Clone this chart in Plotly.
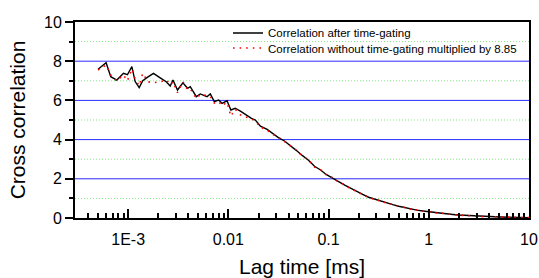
import plotly.graph_objects as go

# Lag times [ms]
lag_ms = [
    5.01e-4, 6.03e-4, 6.71e-4, 7.71e-4, 8.98e-4, 9.84e-4, 1.09e-3, 1.175e-3, 1.29e-3, 1.40e-3,
    1.58e-3, 1.79e-3, 2.09e-3, 2.40e-3, 2.63e-3, 2.80e-3, 3.11e-3, 3.52e-3, 3.92e-3, 4.17e-3,
    4.79e-3, 5.25e-3, 6.12e-3, 6.61e-3, 7.24e-3, 8.0e-3, 8.65e-3, 9.7e-3, 1.06e-2, 1.17e-2,
    1.32e-2, 1.54e-2, 1.70e-2, 1.86e-2, 2.09e-2, 2.44e-2,
    0.0275, 0.0316, 0.0363, 0.0417, 0.0479, 0.0550, 0.0631, 0.0724, 0.0832, 0.0955,
    0.110, 0.126, 0.145, 0.166, 0.191, 0.219, 0.251, 0.288, 0.331, 0.380,
    0.437, 0.501, 0.575, 0.661, 0.759, 0.871, 1.0, 1.148, 1.318, 1.514,
    1.738, 1.995, 2.291, 2.63, 3.02, 3.47, 3.98, 4.57, 5.25, 6.03,
    6.92, 7.94, 9.12, 10.0,
]

# Correlation after time-gating
corr_gated = [
    7.59, 7.92, 7.21, 7.04, 7.38, 7.31, 7.72, 6.96, 6.65, 7.00,
    7.20, 7.38, 7.15, 6.95, 6.73, 7.04, 6.53, 6.90, 6.62, 6.70,
    6.19, 6.33, 6.19, 6.33, 5.94, 6.02, 5.85, 5.98, 5.51, 5.60,
    5.45, 5.20, 5.08, 5.00, 4.69, 4.52,
    4.32, 4.10, 3.93, 3.70, 3.44, 3.18, 2.95, 2.64, 2.45, 2.21,
    2.05, 1.86, 1.68, 1.51, 1.35, 1.20, 1.06, 0.96, 0.86, 0.77,
    0.68, 0.60, 0.53, 0.46, 0.40, 0.36, 0.32, 0.27, 0.24, 0.21,
    0.18, 0.15, 0.13, 0.11, 0.095, 0.08, 0.07, 0.06, 0.05, 0.045,
    0.035, 0.03, 0.025, 0.02,
]

# Correlation without time-gating, multiplied by 8.85
corr_ungated = [
    7.55, 7.80, 7.30, 6.99, 7.30, 7.00, 7.60, 7.10, 6.75, 7.38,
    6.95, 6.90, 6.95, 7.05, 6.80, 6.95, 6.39, 6.95, 6.55, 6.60,
    6.10, 6.30, 6.25, 6.20, 5.87, 5.95, 5.73, 5.90, 5.20, 5.55,
    5.26, 5.15, 5.05, 4.95, 4.63, 4.49,
    4.28, 4.12, 3.90, 3.66, 3.46, 3.15, 2.97, 2.60, 2.47, 2.18,
    2.06, 1.83, 1.70, 1.48, 1.36, 1.18, 1.07, 0.94, 0.87, 0.75,
    0.69, 0.59, 0.54, 0.45, 0.41, 0.35, 0.33, 0.26, 0.25, 0.20,
    0.19, 0.14, 0.13, 0.10, 0.10, 0.07, 0.07, 0.05, 0.05, 0.04,
    0.035, 0.025, 0.025, 0.02,
]

x_tickvals = [1e-3, 0.01, 0.1, 1, 10]
x_ticktext = ["1E-3", "0.01", "0.1", "1", "10"]
x_minor_ticks = [m * 10.0 ** e for e in range(-4, 1) for m in range(2, 10) if m * 10.0 ** e > 2.9e-4]
y_tickvals = [0, 2, 4, 6, 8, 10]
y_major_grid = [2, 4, 6, 8]
y_minor_grid = [1, 3, 5, 7, 9]

FONT = "Liberation Sans, Arial, sans-serif"

fig = go.Figure()
fig.add_trace(go.Scatter(
    x=lag_ms, y=corr_gated, mode="lines",
    name="Correlation after time-gating",
    line=dict(color="black", width=1.4),
    legend="legend",
))
fig.add_trace(go.Scatter(
    x=lag_ms, y=corr_ungated, mode="lines",
    name="Correlation without time-gating multiplied by 8.85",
    line=dict(color="#ff0000", width=1.6, dash="1.6px,5px"),
    legend="legend2",
))

shapes = []
for v in y_major_grid:
    shapes.append(dict(type="line", xref="paper", x0=0, x1=1, yref="y", y0=v, y1=v,
                       line=dict(color="#2a2aff", width=1), layer="below"))
for v in y_minor_grid:
    shapes.append(dict(type="line", xref="paper", x0=0, x1=1, yref="y", y0=v, y1=v,
                       line=dict(color="#80e880", width=1, dash="1px,2px"), layer="below"))

legend_style = dict(
    xanchor="left", yanchor="middle",
    bgcolor="rgba(0,0,0,0)", borderwidth=0,
    font=dict(size=11.5, family=FONT),
)

fig.update_layout(
    width=539, height=278,
    margin=dict(l=75, r=10, t=22, b=60, autoexpand=False),
    paper_bgcolor="white", plot_bgcolor="white",
    font=dict(family=FONT, color="black", size=16),
    shapes=shapes,
    showlegend=True,
    legend=dict(x=0.337, y=0.944, **legend_style),
    legend2=dict(x=0.337, y=0.867, **legend_style),
    xaxis=dict(
        type="log", range=[-3.53, 1], automargin=False,
        tickvals=x_tickvals, ticktext=x_ticktext,
        ticks="inside", ticklen=9, tickwidth=1.5, tickcolor="black",
        minor=dict(tickvals=x_minor_ticks, ticks="inside", ticklen=5, tickwidth=1.5,
                   tickcolor="black", showgrid=False),
        showgrid=False, zeroline=False,
        showline=True, linecolor="black", linewidth=2, mirror=True,
        tickfont=dict(size=16), ticklabelstandoff=6,
        title=dict(text="Lag time [ms]", font=dict(size=21), standoff=14),
    ),
    yaxis=dict(
        range=[0, 10], automargin=False,
        tickvals=y_tickvals,
        ticks="outside", ticklen=8, tickwidth=1.5, tickcolor="black",
        minor=dict(ticks="outside", ticklen=4, tickwidth=1.5, tickcolor="black",
                   showgrid=False, dtick=1),
        showgrid=False, zeroline=False,
        showline=True, linecolor="black", linewidth=2, mirror=True,
        tickfont=dict(size=16),
        title=dict(text="Cross correlation", font=dict(size=21), standoff=13),
    ),
)

fig.write_html(
    "out.html",
    config={"displayModeBar": False},
    post_script=(
        "document.body.style.margin='0';"
        "document.body.style.overflow='hidden';"
        "document.documentElement.style.overflow='hidden';"
    ),
)
